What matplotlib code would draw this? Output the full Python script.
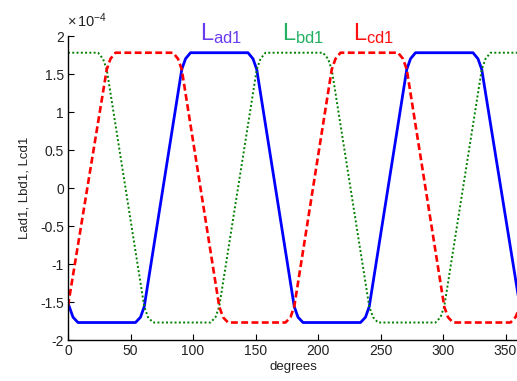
import matplotlib
matplotlib.use("Agg")
import matplotlib.pyplot as plt
from matplotlib.ticker import FuncFormatter

plt.rcParams['font.family'] = ['Liberation Sans', 'DejaVu Sans']
plt.rcParams['mathtext.fontset'] = 'custom'
plt.rcParams['mathtext.rm'] = 'Liberation Sans'
plt.rcParams['mathtext.it'] = 'Liberation Sans'

SCALE = 1e-4

# Lad1 (blue, solid) in units of 1e-4
lad1_deg = [0, 1, 4, 8, 54, 58, 61, 91, 94, 98, 144, 148, 151, 181, 184, 188,
            234, 238, 241, 271, 274, 278, 324, 328, 331, 360]
lad1_val = [-1.52, -1.56, -1.70, -1.77, -1.77, -1.70, -1.56, 1.56, 1.70, 1.78,
            1.78, 1.70, 1.56, -1.56, -1.70, -1.77, -1.77, -1.70, -1.56, 1.56,
            1.70, 1.78, 1.78, 1.70, 1.56, -1.40]

# Lbd1 (green, dotted)
lbd1_deg = [0, 24, 28, 31, 61, 64, 68, 114, 118, 121, 151, 154, 158, 204, 208,
            211, 241, 244, 248, 294, 298, 301, 331, 334, 338, 360]
lbd1_val = [1.78, 1.78, 1.70, 1.56, -1.56, -1.70, -1.77, -1.77, -1.70, -1.56,
            1.56, 1.70, 1.78, 1.78, 1.70, 1.56, -1.56, -1.70, -1.77, -1.77,
            -1.70, -1.56, 1.56, 1.70, 1.78, 1.78]

# Lcd1 (red, dashed)
lcd1_deg = [0, 31, 34, 38, 84, 88, 91, 121, 124, 128, 174, 178, 181, 211, 214,
            218, 264, 268, 271, 301, 304, 308, 354, 358, 360]
lcd1_val = [-1.55, 1.56, 1.70, 1.78, 1.78, 1.70, 1.56, -1.56, -1.70, -1.77,
            -1.77, -1.70, -1.56, 1.56, 1.70, 1.78, 1.78, 1.70, 1.56, -1.56,
            -1.70, -1.77, -1.77, -1.70, -1.62]

x_ticks = [0, 50, 100, 150, 200, 250, 300, 350]
y_ticks = [-2, -1.5, -1, -0.5, 0, 0.5, 1, 1.5, 2]

fig = plt.figure(figsize=(5.17, 3.81), dpi=100)
ax = fig.add_axes([68/517, 1-340/381, 450/517, 304/381])

ax.plot(lad1_deg, [v*SCALE for v in lad1_val], color='#0000ff', lw=2.0,
        solid_joinstyle='round')
ax.plot(lbd1_deg, [v*SCALE for v in lbd1_val], color='#008000', lw=1.4,
        linestyle=(0, (1, 1.2)))
ax.plot(lcd1_deg, [v*SCALE for v in lcd1_val], color='#ff0000', lw=1.9,
        linestyle=(0, (2.6, 1.3)))

ax.set_xlim(0, 360)
ax.set_ylim(-2*SCALE, 2*SCALE)
ax.set_xticks(x_ticks)
ax.set_yticks([t*SCALE for t in y_ticks])
ax.yaxis.set_major_formatter(FuncFormatter(lambda v, p: ('%g' % round(v/SCALE, 3))))
ax.tick_params(direction='in', length=4, width=0.8, labelsize=10,
               colors='black', labelcolor='#222222', pad=3)
for s in ['top', 'right']:
    ax.spines[s].set_visible(False)
for s in ['left', 'bottom']:
    ax.spines[s].set_linewidth(1.0)

ax.set_xlabel('degrees', fontsize=9.5, color='#222222', labelpad=2)
ax.set_ylabel('Lad1, Lbd1, Lcd1', fontsize=9.5, color='#222222', labelpad=7)

fig.text(67/517, 1-27/381, r'$\times\,10^{-4}$', fontsize=10.5, color='#222222',
         ha='left', va='baseline')

fig.text(200/517, 1-40/381, r'$\mathrm{L}_{\mathrm{ad1}}$', fontsize=17,
         color='#6a3cf0', ha='left', va='baseline')
fig.text(282/517, 1-40/381, r'$\mathrm{L}_{\mathrm{bd1}}$', fontsize=17,
         color='#22b060', ha='left', va='baseline')
fig.text(353/517, 1-40/381, r'$\mathrm{L}_{\mathrm{cd1}}$', fontsize=17,
         color='#ff1010', ha='left', va='baseline')

fig.savefig('out.png', dpi=100)
